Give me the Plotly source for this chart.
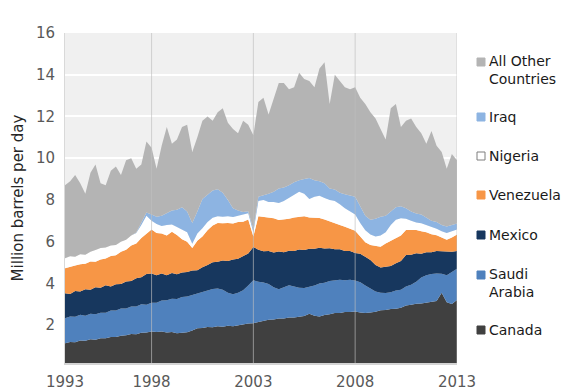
import plotly.graph_objects as go

# quarterly dates, Oct 1993 .. Jan 2013
dates = [f"{1993 + (9 + 3 * k) // 12}-{(9 + 3 * k) % 12 + 1:02d}-01" for k in range(78)]

tick_dates = ["1993-10-01", "1998-01-01", "2003-01-01", "2008-01-01", "2013-01-01"]
tick_labels = ["1993", "1998", "2003", "2008", "2013"]

canada = [1.14, 1.20, 1.18, 1.27, 1.25, 1.33, 1.30, 1.38, 1.38, 1.44,
          1.43, 1.50, 1.52, 1.58, 1.57, 1.64, 1.65, 1.70, 1.68, 1.70,
          1.65, 1.67, 1.62, 1.63, 1.66, 1.75, 1.85, 1.87, 1.92, 1.90,
          1.95, 1.93, 1.97, 1.95, 2.00, 2.02, 2.08, 2.10, 2.16, 2.20,
          2.26, 2.27, 2.32, 2.32, 2.37, 2.37, 2.42, 2.44, 2.55, 2.45,
          2.42, 2.49, 2.52, 2.58, 2.59, 2.63, 2.63, 2.66, 2.61, 2.59,
          2.61, 2.64, 2.72, 2.73, 2.78, 2.79, 2.84, 2.94, 2.98, 3.03,
          3.04, 3.09, 3.11, 3.16, 3.55, 3.10, 3.02, 3.21]

saudi = [1.19, 1.22, 1.22, 1.23, 1.20, 1.22, 1.22, 1.22, 1.22, 1.26,
         1.27, 1.30, 1.28, 1.32, 1.33, 1.36, 1.33, 1.38, 1.40, 1.48,
         1.55, 1.60, 1.64, 1.72, 1.72, 1.70, 1.65, 1.70, 1.72, 1.83,
         1.81, 1.77, 1.58, 1.53, 1.56, 1.66, 1.82, 2.05, 1.92, 1.85,
         1.72, 1.55, 1.40, 1.50, 1.55, 1.49, 1.38, 1.34, 1.29, 1.45,
         1.58, 1.55, 1.60, 1.58, 1.59, 1.53, 1.55, 1.48, 1.45, 1.31,
         1.15, 0.98, 0.84, 0.81, 0.80, 0.87, 0.86, 0.92, 0.96, 1.05,
         1.25, 1.30, 1.34, 1.32, 0.91, 1.30, 1.53, 1.49]

mexico = [1.20, 1.08, 1.24, 1.12, 1.27, 1.15, 1.30, 1.20, 1.32, 1.16,
          1.26, 1.18, 1.30, 1.22, 1.35, 1.30, 1.47, 1.40, 1.32, 1.30,
          1.20, 1.23, 1.18, 1.17, 1.17, 1.17, 1.13, 1.21, 1.24, 1.29,
          1.28, 1.40, 1.53, 1.67, 1.62, 1.64, 1.54, 1.60, 1.54, 1.49,
          1.57, 1.66, 1.81, 1.68, 1.65, 1.70, 1.83, 1.82, 1.82, 1.76,
          1.71, 1.64, 1.57, 1.48, 1.46, 1.40, 1.37, 1.32, 1.36, 1.38,
          1.36, 1.26, 1.20, 1.26, 1.26, 1.31, 1.38, 1.50, 1.44, 1.37,
          1.14, 1.11, 1.05, 1.07, 1.08, 1.16, 0.97, 0.85]

venezuela = [1.20, 1.28, 1.22, 1.30, 1.23, 1.35, 1.22, 1.35, 1.28, 1.46,
             1.39, 1.54, 1.52, 1.70, 1.67, 1.88, 1.93, 2.10, 2.02, 1.92,
             1.90, 1.98, 1.88, 1.60, 1.45, 1.08, 1.42, 1.47, 1.67, 1.76,
             1.86, 1.78, 1.82, 1.72, 1.76, 1.64, 1.62, 0.50, 1.60, 1.64,
             1.61, 1.64, 1.51, 1.56, 1.53, 1.60, 1.57, 1.62, 1.50, 1.49,
             1.43, 1.38, 1.27, 1.24, 1.16, 1.16, 1.07, 1.06, 0.83, 0.70,
             0.72, 0.92, 1.00, 1.12, 1.20, 1.19, 1.22, 1.20, 1.18, 1.11,
             1.07, 0.96, 0.86, 0.76, 0.66, 0.54, 0.68, 0.80]

nigeria = [0.48, 0.52, 0.42, 0.48, 0.43, 0.47, 0.56, 0.55, 0.52, 0.50,
           0.49, 0.48, 0.48, 0.48, 0.50, 0.62, 0.87, 0.42, 0.43, 0.35,
           0.50, 0.34, 0.38, 0.46, 0.45, 0.20, 0.35, 0.40, 0.40, 0.37,
           0.32, 0.32, 0.32, 0.31, 0.30, 0.32, 0.30, 0.20, 0.73, 0.82,
           0.74, 0.78, 0.81, 0.89, 1.00, 1.09, 1.20, 1.08, 0.89, 1.00,
           1.06, 1.04, 1.04, 1.07, 1.00, 0.88, 0.83, 0.78, 0.65, 0.57,
           0.51, 0.45, 0.54, 0.53, 0.76, 0.89, 0.82, 0.54, 0.44, 0.36,
           0.38, 0.34, 0.34, 0.31, 0.30, 0.32, 0.30, 0.23]

iraq = [0.00, 0.00, 0.00, 0.00, 0.00, 0.00, 0.00, 0.00, 0.00, 0.00,
        0.00, 0.00, 0.00, 0.00, 0.02, 0.10, 0.15, 0.30, 0.35, 0.50,
        0.57, 0.68, 0.83, 1.07, 1.00, 1.00, 1.05, 1.40, 1.30, 1.30,
        1.30, 1.15, 0.78, 0.42, 0.26, 0.14, 0.10, 0.15, 0.20, 0.22,
        0.40, 0.50, 0.70, 0.65, 0.60, 0.60, 0.55, 0.70, 1.00, 0.80,
        0.70, 0.70, 0.55, 0.55, 0.55, 0.68, 0.77, 0.85, 0.80, 0.70,
        0.70, 0.85, 0.90, 0.80, 0.65, 0.60, 0.58, 0.50, 0.45, 0.43,
        0.42, 0.35, 0.30, 0.33, 0.30, 0.31, 0.30, 0.29]

other = [3.49, 3.60, 3.92, 3.40, 2.92, 3.78, 4.10, 3.10, 2.98, 3.58,
         3.76, 3.20, 3.80, 3.70, 3.06, 2.80, 3.40, 3.20, 2.30, 3.35,
         4.13, 3.20, 3.37, 3.85, 4.15, 3.40, 3.55, 3.75, 3.75, 3.35,
         3.68, 4.05, 3.70, 3.80, 3.70, 4.38, 4.14, 4.50, 4.55, 4.68,
         3.80, 4.50, 5.05, 5.00, 4.60, 4.55, 5.15, 4.80, 4.65, 4.45,
         5.40, 5.80, 4.05, 5.50, 5.35, 5.12, 5.08, 5.25, 5.20, 5.35,
         5.15, 4.80, 4.20, 3.65, 4.95, 4.95, 3.80, 4.20, 4.45, 4.15,
         3.90, 3.55, 4.30, 3.65, 3.50, 2.77, 3.40, 3.03]

series = [
    ("Canada", canada, "#404040"),
    ("Saudi Arabia", saudi, "#4f81bd"),
    ("Mexico", mexico, "#17375e"),
    ("Venezuela", venezuela, "#f79646"),
    ("Nigeria", nigeria, "#ffffff"),
    ("Iraq", iraq, "#8db4e2"),
    ("All Other Countries", other, "#b4b4b4"),
]
colors = {name: col for name, _, col in series}

fig = go.Figure()
for name, vals, col in series:
    fig.add_trace(go.Scatter(
        x=dates, y=vals, name=name, stackgroup="one", mode="lines",
        line=dict(width=0, color=col), fillcolor=col, showlegend=False,
    ))

FONT = "DejaVu Sans"
fig.update_layout(
    width=580, height=392,
    margin=dict(l=65, r=123, t=33, b=29, autoexpand=False),
    paper_bgcolor="white", plot_bgcolor="#f0f0f0",
    font=dict(family=FONT, size=15, color="#595959"),
    showlegend=False,
)
fig.update_xaxes(
    type="date", range=[dates[0], dates[-1]], automargin=False,
    tickvals=tick_dates, ticktext=tick_labels,
    showgrid=False, zeroline=False,
    showline=True, linecolor="#d4d4d4", linewidth=2,
    ticks="", ticklabelstandoff=4,
)
fig.update_yaxes(
    range=[0.19, 16], tickvals=list(range(2, 17, 2)), automargin=False,
    showgrid=True, gridcolor="white", gridwidth=2,
    zeroline=False, showline=True, linecolor="#d9d9d9", linewidth=1,
    ticks="", ticklabelstandoff=6,
    title=dict(text="Million barrels per day",
               font=dict(family=FONT, size=15, color="#262626"), standoff=8),
)

# vertical gridlines drawn over the areas
for d in tick_dates[1:]:
    fig.add_shape(type="line", xref="x", yref="paper", x0=d, x1=d, y0=0, y1=1,
                  line=dict(color="rgba(190,190,190,0.65)", width=1), layer="above")

# legend (right side)
L, T, W, H = 65, 33, 392, 330


def px_x(px):
    return (px - L) / W


def px_y(py):
    return (T + H - py) / H


legend_items = [
    ("All Other<br>Countries", "All Other Countries", 62, 2),
    ("Iraq", "Iraq", 117, 1),
    ("Nigeria", "Nigeria", 156, 1),
    ("Venezuela", "Venezuela", 195, 1),
    ("Mexico", "Mexico", 235, 1),
    ("Saudi<br>Arabia", "Saudi Arabia", 275, 2),
    ("Canada", "Canada", 330, 1),
]
LINE = 18.2
for txt, key, yc, nlines in legend_items:
    col = colors[key]
    border = "#7f7f7f" if key == "Nigeria" else col
    fig.add_shape(type="rect", xref="paper", yref="paper",
                  x0=px_x(477), x1=px_x(485), y0=px_y(yc + 4), y1=px_y(yc - 4),
                  fillcolor=col, line=dict(color=border, width=1))
    ymid = yc + (nlines - 1) * LINE / 2 - (nlines - 1) * 1.5
    fig.add_annotation(x=px_x(487), y=px_y(ymid), xref="paper", yref="paper",
                       text=txt, showarrow=False, xanchor="left", yanchor="middle",
                       align="left",
                       font=dict(family=FONT, size=14, color="#1a1a1a"))

fig.write_html("out.html", config={"displayModeBar": False},
               post_script="document.body.style.margin='0';document.body.style.padding='0';")
